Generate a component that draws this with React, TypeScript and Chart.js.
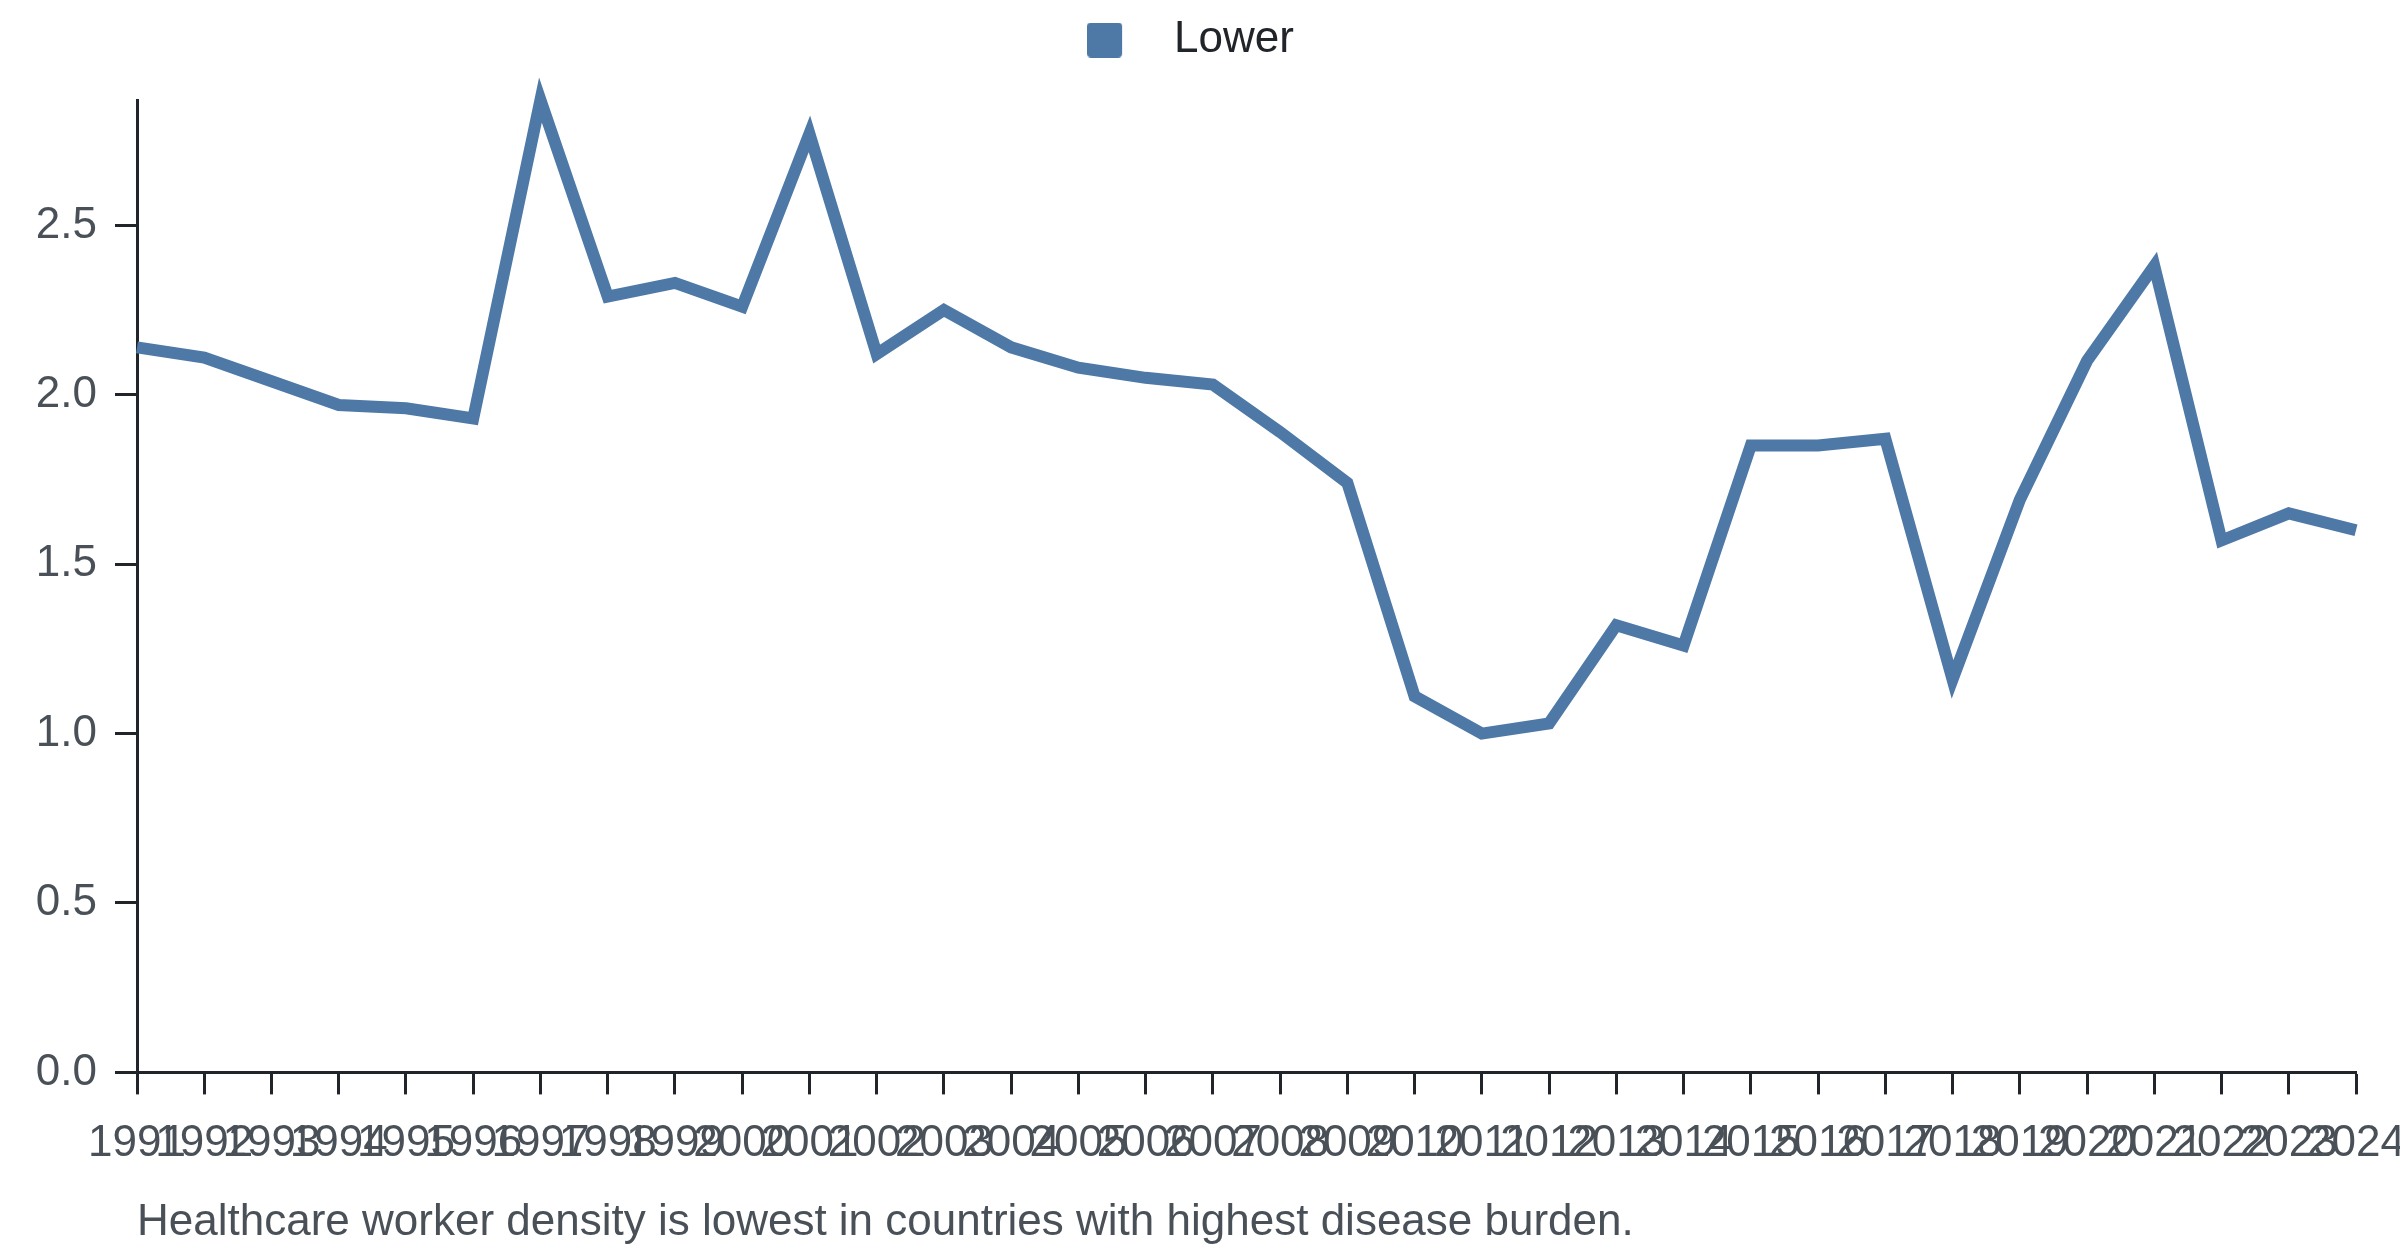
import { useEffect, useRef } from 'react';
import { Chart, registerables } from 'chart.js';

Chart.register(...registerables);

const years = [
  '1991', '1992', '1993', '1994', '1995', '1996', '1997', '1998', '1999', '2000',
  '2001', '2002', '2003', '2004', '2005', '2006', '2007', '2008', '2009', '2010',
  '2011', '2012', '2013', '2014', '2015', '2016', '2017', '2018', '2019', '2020',
  '2021', '2022', '2023', '2024',
];

const lowerValues = [
  2.14, 2.11, 2.04, 1.97, 1.96, 1.93, 2.87, 2.29, 2.33, 2.26,
  2.77, 2.12, 2.25, 2.14, 2.08, 2.05, 2.03, 1.89, 1.74, 1.11,
  1.00, 1.03, 1.32, 1.26, 1.85, 1.85, 1.87, 1.16, 1.69, 2.10,
  2.38, 1.57, 1.65, 1.60,
];

const caption = 'Healthcare worker density is lowest in countries with highest disease burden.';

const FONT = '"Liberation Sans", Arial, Helvetica, sans-serif';
const AXIS = '#212529';
const LABEL = '#495057';
const BLUE = '#4e79a7';

// legend swatch: rounded square on the left of a wider transparent canvas,
// so the gap between swatch and text is wider than Chart.js gives by default
function makeSwatch(): HTMLCanvasElement {
  const c = document.createElement('canvas');
  c.width = 84;
  c.height = 35;
  const g = c.getContext('2d');
  if (g) {
    const s = 35, r = 4;
    g.fillStyle = BLUE;
    g.beginPath();
    g.moveTo(r, 0);
    g.arcTo(s, 0, s, s, r);
    g.arcTo(s, s, 0, s, r);
    g.arcTo(0, s, 0, 0, r);
    g.arcTo(0, 0, s, 0, r);
    g.closePath();
    g.fill();
  }
  return c;
}

export default function App() {
  const chartRef = useRef<HTMLCanvasElement>(null);
  const chartInstanceRef = useRef<Chart | null>(null);

  useEffect(() => {
    document.body.style.margin = '0';
    if (!chartRef.current) return;
    const ctx = chartRef.current.getContext('2d');
    if (!ctx) return;

    if (chartInstanceRef.current) {
      chartInstanceRef.current.destroy();
    }

    chartInstanceRef.current = new Chart(ctx, {
      type: 'line',
      data: {
        labels: years,
        datasets: [{
          label: 'Lower',
          data: lowerValues,
          borderColor: BLUE,
          backgroundColor: BLUE,
          borderWidth: 12,
          borderJoinStyle: 'miter',
          pointRadius: 0,
          pointHoverRadius: 0,
          tension: 0,
          fill: false,
          clip: false,
        }],
      },
      options: {
        responsive: true,
        maintainAspectRatio: false,
        animation: false,
        layout: {
          padding: { top: 8, left: 0, right: 0, bottom: 0 },
        },
        plugins: {
          legend: {
            position: 'top',
            labels: {
              usePointStyle: true,
              pointStyle: makeSwatch(),
              pointStyleWidth: 46,
              boxHeight: 35,
              padding: 10,
              color: AXIS,
              font: { size: 44, family: FONT },
              generateLabels: (chart: any) =>
                Chart.defaults.plugins.legend.labels
                  .generateLabels(chart)
                  .map((item: any) => ({ ...item, lineWidth: 0 })),
            },
          },
          // empty spacer between the legend and the plot
          title: {
            display: true,
            text: '',
            weight: 500,
            padding: 0,
            font: { size: 28, lineHeight: 1 },
          },
          subtitle: {
            display: true,
            text: caption,
            position: 'bottom',
            align: 'start',
            fullSize: false,
            color: LABEL,
            font: { size: 44, family: FONT, weight: 'normal' },
            padding: { top: 3, bottom: 7 },
          },
          tooltip: { enabled: false },
        },
        scales: {
          x: {
            afterFit: (scale: any) => {
              scale.paddingRight = 44;
            },
            grid: {
              drawOnChartArea: false,
              drawTicks: true,
              tickLength: 22,
              tickWidth: 3,
              tickColor: AXIS,
            },
            border: { display: true, color: AXIS, width: 3 },
            ticks: {
              autoSkip: false,
              maxRotation: 0,
              minRotation: 0,
              padding: 23,
              color: LABEL,
              font: { size: 44, family: FONT },
            },
          },
          y: {
            min: 0,
            max: Math.max(...lowerValues),
            afterFit: (scale: any) => {
              scale.width = 137;
            },
            grid: {
              drawOnChartArea: false,
              drawTicks: true,
              tickLength: 22,
              tickWidth: 3,
              tickColor: AXIS,
            },
            border: { display: true, color: AXIS, width: 3 },
            ticks: {
              stepSize: 0.5,
              includeBounds: false,
              padding: 18,
              color: LABEL,
              font: { size: 44, family: FONT },
              callback: (value: any) => Number(value).toFixed(1),
            },
          },
        },
      },
    });

    return () => {
      if (chartInstanceRef.current) {
        chartInstanceRef.current.destroy();
        chartInstanceRef.current = null;
      }
    };
  }, []);

  return (
    <div style={{ position: 'relative', width: '2400px', height: '1256px' }}>
      <canvas ref={chartRef} />
    </div>
  );
}
